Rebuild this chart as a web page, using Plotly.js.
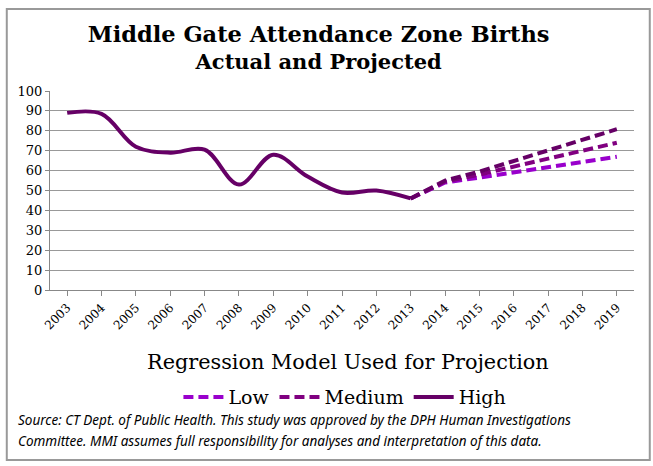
<!DOCTYPE html>
<html>
<head>
<meta charset="utf-8">
<script src="https://cdn.plot.ly/plotly-3.0.1.min.js"></script>
<style>html,body{margin:0;padding:0;background:#fff;}#chart{width:653px;height:466px;}</style>
</head>
<body>
<div id="chart"></div>
<script>
// Data
const actualYears = [2003, 2004, 2005, 2006, 2007, 2008, 2009, 2010, 2011, 2012, 2013];
const actualBirths = [89, 88.5, 72, 69, 70.5, 53, 68, 57, 49, 50, 46];
const projYears = [2013, 2014, 2015, 2016, 2017, 2018, 2019];
const projLow = [46, 54, 56.5, 59, 62, 64.5, 67];
const projMedium = [46, 54.5, 58, 62, 66, 70, 74];
const projHigh = [46, 55, 59.5, 64.8, 70, 75.4, 80.8];
const yearTicks = [2003, 2004, 2005, 2006, 2007, 2008, 2009, 2010, 2011, 2012, 2013, 2014, 2015, 2016, 2017, 2018, 2019];
const yTicks = [0, 10, 20, 30, 40, 50, 60, 70, 80, 90, 100];
const sourceLines = [
  'Source: CT Dept. of Public Health. This study was approved by the DPH Human Investigations',
  'Committee. MMI assumes full responsibility for analyses and interpretation of this data.'
];

const cLow = '#9900CC', cMed = '#800080', cHigh = '#660066';
const serif = 'DejaVu Serif, Georgia, serif';

const traces = [
  {x: projYears, y: projLow, name: 'Low', mode: 'lines',
   line: {color: cLow, width: 4, dash: '10px,5px'}},
  {x: projYears, y: projMedium, name: 'Medium', mode: 'lines',
   line: {color: cMed, width: 4, dash: '10px,5px'}},
  {x: projYears, y: projHigh, name: 'High', mode: 'lines', showlegend: false,
   line: {color: cHigh, width: 4, dash: '10px,5px'}},
  {x: actualYears, y: actualBirths, name: 'High', mode: 'lines',
   line: {color: cHigh, width: 4, shape: 'spline', smoothing: 1}}
];

const layout = {
  width: 653, height: 466,
  margin: {l: 50, r: 19, t: 91, b: 176},
  paper_bgcolor: '#fff', plot_bgcolor: '#fff',
  showlegend: true,
  title: {text: '<b><span style="font-size:22.5px">Middle Gate Attendance Zone Births</span></b><br><b>Actual and Projected</b>',
          x: 0.488, xref: 'container', xanchor: 'center', y: 0.91, yref: 'container', yanchor: 'middle',
          font: {family: serif, size: 21, color: '#000'}},
  xaxis: {range: [2002.5, 2019.5], tickmode: 'array', tickvals: yearTicks,
          ticktext: yearTicks.map(String), tickangle: -45,
          ticks: 'outside', ticklen: 5, tickcolor: '#888', showgrid: false,
          showline: true, linecolor: '#888', linewidth: 1, zeroline: false,
          tickfont: {family: serif, size: 12, color: '#000'}},
  yaxis: {range: [0, 100], tickmode: 'array', tickvals: yTicks,
          showgrid: true, gridcolor: '#999', gridwidth: 1,
          showline: true, linecolor: '#888', linewidth: 1, zeroline: false,
          ticks: 'outside', ticklen: 4, tickcolor: '#888',
          tickfont: {family: serif, size: 13, color: '#000'}},
  legend: {orientation: 'h', x: 0.505, xanchor: 'center', y: -0.538, yanchor: 'middle',
           font: {family: serif, size: 19, color: '#000'}, itemwidth: 40,
           bgcolor: 'rgba(0,0,0,0)'},
  annotations: [
    {text: 'Regression Model Used for Projection', xref: 'paper', yref: 'paper',
     x: 0.51, y: -0.36, xanchor: 'center', yanchor: 'middle', showarrow: false,
     font: {family: serif, size: 20.8, color: '#000'}},
    {text: '<i>' + sourceLines[0] + '</i>',
     xref: 'paper', yref: 'paper', x: -0.058, y: -0.653, xanchor: 'left', yanchor: 'middle',
     align: 'left', showarrow: false,
     font: {family: 'Noto Sans, sans-serif', size: 13.5, color: '#000'}},
    {text: '<i>' + sourceLines[1] + '</i>',
     xref: 'paper', yref: 'paper', x: -0.058, y: -0.759, xanchor: 'left', yanchor: 'middle',
     align: 'left', showarrow: false,
     font: {family: 'Noto Sans, sans-serif', size: 13.5, color: '#000'}}
  ],
  shapes: [
    {type: 'rect', xref: 'paper', yref: 'paper', x0: -0.074, x1: 1.027, y0: -0.854, y1: 1.412,
     line: {color: '#999', width: 2}, fillcolor: 'rgba(0,0,0,0)', layer: 'below'}
  ]
};

Plotly.newPlot('chart', traces, layout, {displayModeBar: false, staticPlot: true});
</script>
</body>
</html>
